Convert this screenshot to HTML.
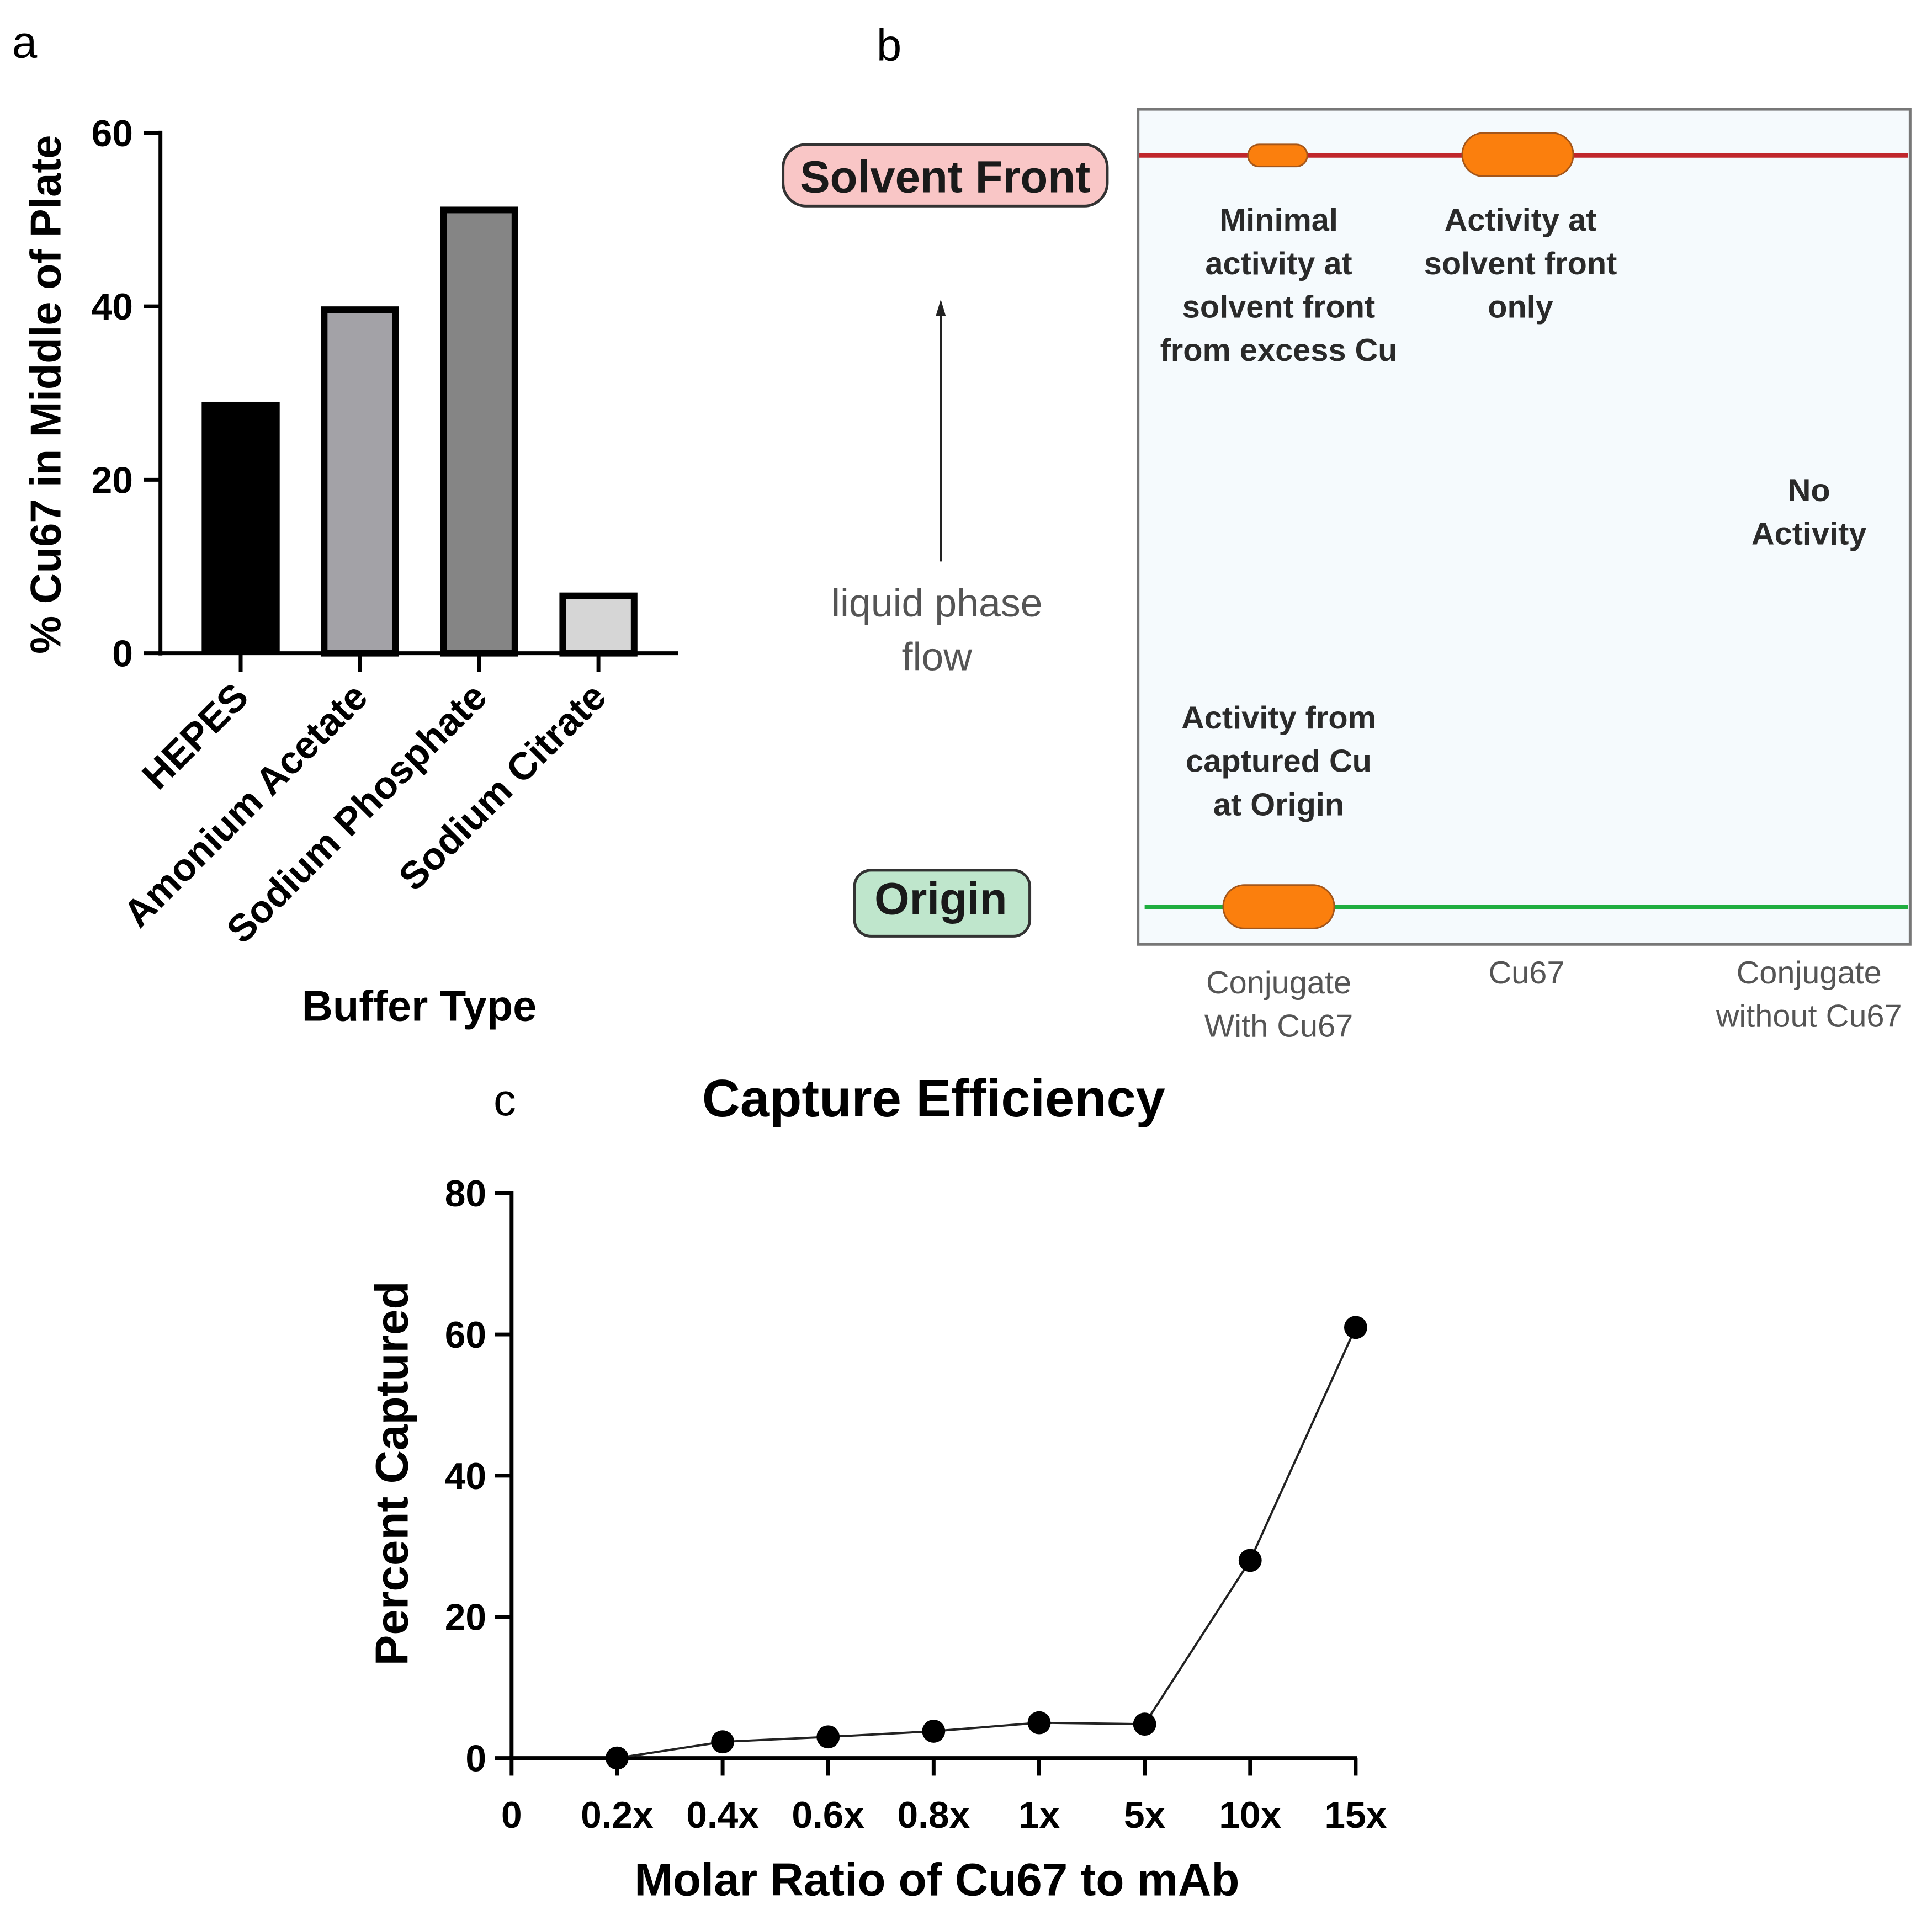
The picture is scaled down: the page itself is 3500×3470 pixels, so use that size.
<!DOCTYPE html>
<html><head><meta charset="utf-8"><style>
html,body{margin:0;padding:0;background:#fff;}
svg{display:block;}
text{font-family:"Liberation Sans",sans-serif;}
.nar{font-family:"Liberation Sans Narrow","Liberation Sans",sans-serif;}
</style></head><body>
<svg id="fig" width="3500" height="3470" viewBox="0 0 3500 3470" xmlns="http://www.w3.org/2000/svg">
<rect width="3500" height="3470" fill="#fff"/>
<g transform="scale(0.9955)">
<text x="22" y="105" font-size="82" fill="#000">a</text>
<g id="chartA"></g>

<text x="1595" y="110" font-size="82" fill="#000">b</text>
<g>
<rect x="2071" y="199" width="1405" height="1520" fill="#f5fafd" stroke="#777" stroke-width="5"/>
<line x1="2073" y1="283" x2="3472" y2="283" stroke="#c0262c" stroke-width="8"/>
<line x1="2083" y1="1651" x2="3472" y2="1651" stroke="#1fae40" stroke-width="8"/>
<rect x="2271" y="263" width="108" height="40" rx="20" fill="#fb7f0d" stroke="#a4561a" stroke-width="3"/>
<rect x="2661" y="242" width="202" height="79" rx="39" fill="#fb7f0d" stroke="#a4561a" stroke-width="3"/>
<rect x="2226" y="1611" width="202" height="79" rx="39" fill="#fb7f0d" stroke="#a4561a" stroke-width="3"/>
<g class="nar" font-size="58" font-weight="bold" fill="#2a2a2a" text-anchor="middle">
<text x="2327" y="420"><tspan x="2327">Minimal</tspan><tspan x="2327" dy="79">activity at</tspan><tspan x="2327" dy="79">solvent front</tspan><tspan x="2327" dy="79">from excess Cu</tspan></text>
<text x="2767" y="420"><tspan x="2767">Activity at</tspan><tspan x="2767" dy="79">solvent front</tspan><tspan x="2767" dy="79">only</tspan></text>
<text x="3292" y="912"><tspan x="3292">No</tspan><tspan x="3292" dy="79">Activity</tspan></text>
<text x="2327" y="1326"><tspan x="2327">Activity from</tspan><tspan x="2327" dy="79">captured Cu</tspan><tspan x="2327" dy="79">at Origin</tspan></text>
</g>
<g class="nar" font-size="58" fill="#555" text-anchor="middle">
<text x="2327" y="1808"><tspan x="2327">Conjugate</tspan><tspan x="2327" dy="79">With Cu67</tspan></text>
<text x="2778" y="1790">Cu67</text>
<text x="3292" y="1790"><tspan x="3292">Conjugate</tspan><tspan x="3292" dy="79">without Cu67</tspan></text>
</g>
<rect x="1425" y="263" width="590" height="112" rx="42" fill="#f9c6c6" stroke="#333" stroke-width="5"/>
<text x="1720" y="350" class="nar" font-size="82" font-weight="bold" fill="#1a1a1a" text-anchor="middle">Solvent Front</text>
<rect x="1555" y="1584" width="319" height="120" rx="30" fill="#bfe6cc" stroke="#333" stroke-width="5"/>
<text x="1712" y="1664" class="nar" font-size="82" font-weight="bold" fill="#1a1a1a" text-anchor="middle">Origin</text>
<line x1="1712" y1="1022" x2="1712" y2="568" stroke="#222" stroke-width="4"/>
<polygon points="1712,545 1703,575 1721,575" fill="#222"/>
<text class="nar" font-size="72" fill="#555" text-anchor="middle"><tspan x="1705" y="1122">liquid phase</tspan><tspan x="1705" y="1220">flow</tspan></text>
</g>

<text x="898" y="2030" font-size="82" fill="#000">c</text>
<text x="1699" y="2032" font-size="96" font-weight="bold" fill="#000" text-anchor="middle">Capture Efficiency</text>
<g id="chartC"></g>
</g>
</svg>
<script>
const NS="http://www.w3.org/2000/svg";
// Chart A data
const bufferCategories=["HEPES","Amonium Acetate","Sodium Phosphate","Sodium Citrate"];
const bufferValues=[29,40,51.5,7];
const bufferFills=["#000000","#a3a2a7","#858585","#d6d6d6"];
const bufferTicks=[0,20,40,60];
// Chart C data
const ratioCategories=["0","0.2x","0.4x","0.6x","0.8x","1x","5x","10x","15x"];
const captureValues=[null,0,2.3,3,3.8,5,4.8,28,61];
const captureTicks=[0,20,40,60,80];

function mk(tag,attrs,parent){const e=document.createElementNS(NS,tag);for(const k in attrs)e.setAttribute(k,attrs[k]);parent.appendChild(e);return e;}

// ---- Chart A ----
(function(){
const g=document.getElementById('chartA');
const x0=292,xEnd=1234,y0=1189,yTop=242,yMax=60;
const ys=v=>y0-(v/yMax)*(y0-yTop);
const step=217,first=438,bw=142;
const xs=i=>first+i*step;
let e=mk('line',{x1:x0,y1:yTop-4,x2:x0,y2:y0+4,stroke:'#000','stroke-width':7},g);


e=mk('line',{x1:x0-4,y1:y0,x2:xEnd,y2:y0,stroke:'#000','stroke-width':7},g);


bufferTicks.forEach(t=>{
 let l=mk('line',{x1:x0-30,y1:ys(t),x2:x0,y2:ys(t),stroke:'#000','stroke-width':7},g);
 
 
 let tx=mk('text',{x:x0-50,y:ys(t)+24,'font-size':68,'font-weight':'bold','text-anchor':'end',fill:'#000'},g);
 tx.textContent=t;
 
 
});
bufferCategories.forEach((c,i)=>{
 const cx=xs(i),v=bufferValues[i];
 const sw=(i===0)?0:12;
 let r=mk('rect',{x:cx-bw/2+sw/2,y:ys(v)+sw/2,width:bw-sw,height:y0-ys(v)-sw/2,fill:bufferFills[i],stroke:'#000','stroke-width':i===0?0:12},g);
 
 
 let l=mk('line',{x1:cx,y1:y0,x2:cx,y2:y0+34,stroke:'#000','stroke-width':7},g);
 
 
 let tx=mk('text',{x:cx+18,y:y0+84,'font-size':70,'font-weight':'bold','text-anchor':'end',fill:'#000',transform:`rotate(-45 ${cx+18} ${y0+84})`},g);
 tx.textContent=c;
 
 
});
let yt=mk('text',{x:0,y:0,'font-size':78,'font-weight':'bold','text-anchor':'middle',fill:'#000',transform:'translate(110 718) rotate(-90)'},g);
yt.textContent='% Cu67 in Middle of Plate';


let xt=mk('text',{x:763,y:1858,'font-size':78,'font-weight':'bold','text-anchor':'middle',fill:'#000','xml:space':'preserve'},g);
xt.textContent='Buffer  Type';


})();

// ---- Chart C ----
(function(){
const g=document.getElementById('chartC');
const x0=931,step=192,y0=3200,yTop=2172,yMax=80;
const xs=i=>x0+i*step;
const ys=v=>y0-(v/yMax)*(y0-yTop);
const xEnd=xs(ratioCategories.length-1);
let e=mk('line',{x1:x0,y1:yTop-4,x2:x0,y2:y0+4,stroke:'#000','stroke-width':7},g);


e=mk('line',{x1:x0-4,y1:y0,x2:xEnd+3,y2:y0,stroke:'#000','stroke-width':7},g);


captureTicks.forEach(t=>{
 let l=mk('line',{x1:x0-30,y1:ys(t),x2:x0,y2:ys(t),stroke:'#000','stroke-width':7},g);
 
 
 let tx=mk('text',{x:x0-46,y:ys(t)+24,'font-size':68,'font-weight':'bold','text-anchor':'end',fill:'#000'},g);
 tx.textContent=t;
 
 
});
ratioCategories.forEach((c,i)=>{
 let l=mk('line',{x1:xs(i),y1:y0,x2:xs(i),y2:y0+32,stroke:'#000','stroke-width':7},g);
 
 
 let tx=mk('text',{x:xs(i),y:y0+127,'font-size':68,'font-weight':'bold','text-anchor':'middle',fill:'#000'},g);
 tx.textContent=c;
 
 
});
let pts=[];
captureValues.forEach((v,i)=>{if(v!==null)pts.push(xs(i)+','+ys(v));});
let pl=mk('polyline',{points:pts.join(' '),fill:'none',stroke:'#222','stroke-width':4},g);


captureValues.forEach((v,i)=>{
 if(v===null)return;
 let c=mk('circle',{cx:xs(i),cy:ys(v),r:21,fill:'#000'},g);
 
 
});
let yt=mk('text',{x:0,y:0,'font-size':84,'font-weight':'bold','text-anchor':'middle',fill:'#000',transform:'translate(742 2682) rotate(-90)'},g);
yt.textContent='Percent Captured';


let xt=mk('text',{x:1705,y:3450,'font-size':84,'font-weight':'bold','text-anchor':'middle',fill:'#000'},g);
xt.textContent='Molar Ratio of Cu67 to mAb';


})();
</script>
</body></html>
